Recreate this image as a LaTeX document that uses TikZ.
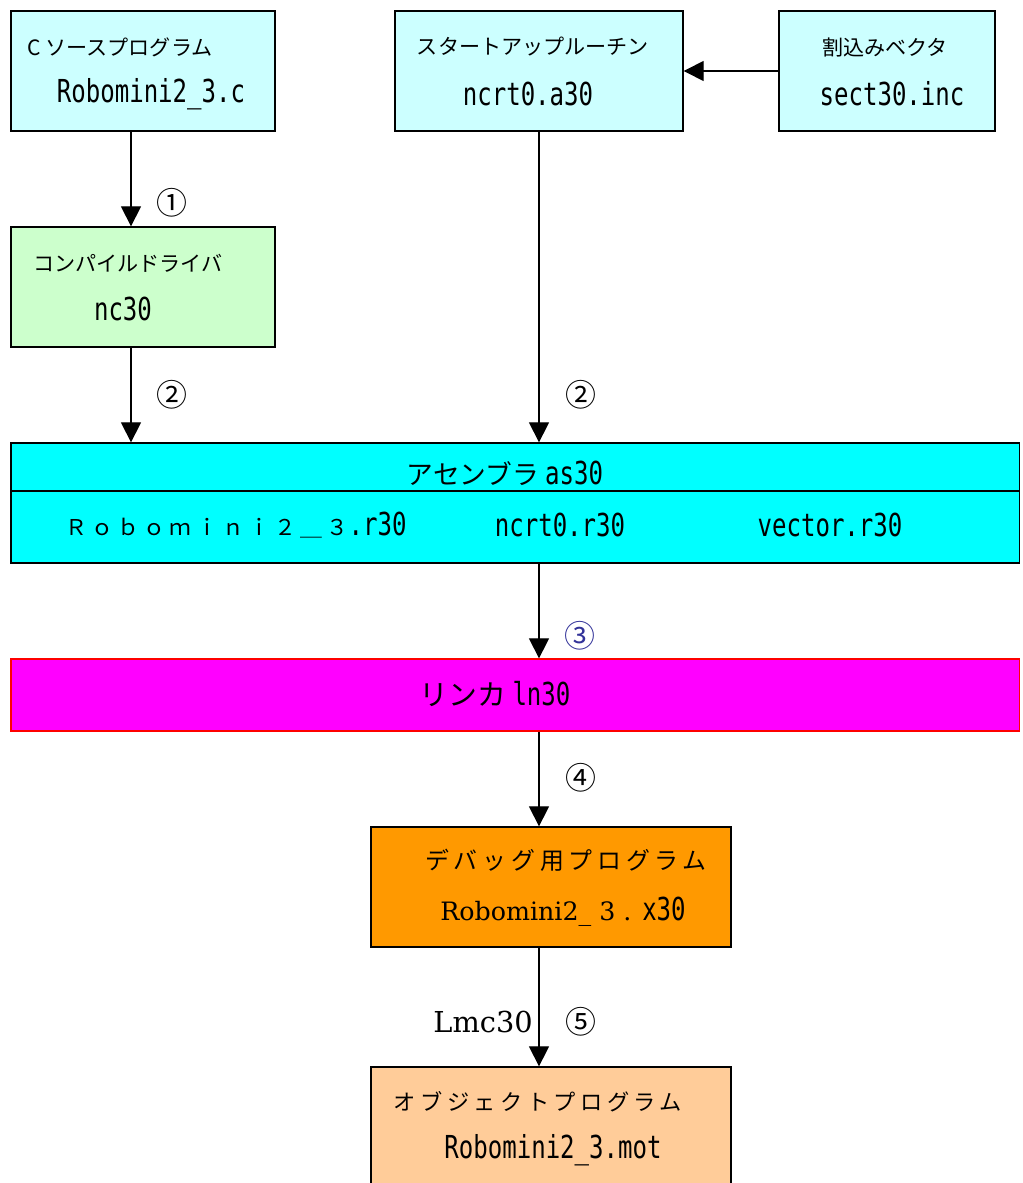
\documentclass[tikz,border=0pt]{standalone}
\usepackage{fontspec}
\usepackage{xcolor}
\usetikzlibrary{arrows.meta,calc,positioning}
\newfontfamily\jp{Noto Sans CJK JP}
\newfontfamily\jpmid[LetterSpace=20]{Noto Sans CJK JP}
\newfontfamily\fn[FakeStretch=0.76]{DejaVu Sans Mono}
\newfontfamily\ser{DejaVu Serif}
\newcommand\jpS{\jp\fontsize{15}{18}\selectfont}
\newcommand\jpL{\jp\fontsize{19}{22}\selectfont}
\newcommand\jpC{\jp\fontsize{22}{26}\selectfont}
\newcommand\fnS{\fn\fontsize{22.5}{26}\selectfont}
\definecolor{paleCyan}{HTML}{CCFFFF}
\definecolor{paleGreen}{HTML}{CCFFCC}
\definecolor{asmCyan}{HTML}{00FFFF}
\definecolor{lnkMagenta}{HTML}{FF00FF}
\definecolor{dbgOrange}{HTML}{FF9900}
\definecolor{objPeach}{HTML}{FFCC99}
\definecolor{stepBlue}{HTML}{333399}

\begin{document}
\begin{tikzpicture}[x=0.025cm,y=-0.025cm,
  box/.style={draw,line width=0.9pt,inner sep=0pt},
  lbl/.style={inner sep=0pt},
  flow/.style={line width=0.9pt,-{Triangle[length=0.5cm,width=0.5cm]}}]
 \clip (0,0) rectangle (1023,1183);
 % sources
 \node[box,fill=paleCyan,minimum width=6.6cm,minimum height=3cm] (src) at (143,71) {};
 \node[lbl] (srcT) at (120,47) {\jpS C ソースプログラム};
 \node[lbl] (srcF) at (151,94) {\fnS Robomini2\_3.c};
 \node[box,fill=paleCyan,minimum width=7.2cm,minimum height=3cm] (start) at (539,71) {};
 \node[lbl] (startT) at (533,47) {\jpS スタートアップルーチン};
 \node[lbl] (startF) at (528,94) {\fnS ncrt0.a30};
 \node[box,fill=paleCyan,minimum width=5.4cm,minimum height=3cm] (vec) at (887,71) {};
 \node[lbl] (vecT) at (885,47) {\jpS 割込みベクタ};
 \node[lbl] (vecF) at (892,94) {\fnS sect30.inc};
 % compiler
 \node[box,fill=paleGreen,minimum width=6.6cm,minimum height=3cm] (cmp) at (143,287) {};
 \node[lbl] (cmpT) at (128,263) {\jpS コンパイルドライバ};
 \node[lbl] (cmpF) at (123,309) {\fnS nc30};
 % assembler
 \node[box,fill=asmCyan,minimum width=25.2cm,minimum height=3cm] (asm) at (515,503) {};
 \draw[line width=0.9pt] (asm.west |- 0,491) -- (asm.east |- 0,491);
 \node[lbl] (asmT) at (505,473) {\jpL アセンブラ {\fnS as30}};
 \node[lbl] (asmA) at (236,525) {{\jpmid\fontsize{15.5}{18}\selectfont Ｒｏｂｏｍｉｎｉ２＿３}{\fnS .r30}};
 \node[lbl] (asmB) at (560,525) {\fnS ncrt0.r30};
 \node[lbl] (asmC) at (830,525) {\fnS vector.r30};
 % linker
 \node[box,draw=red,fill=lnkMagenta,minimum width=25.2cm,minimum height=1.8cm] (lnk) at (515,695) {};
 \node[lbl] (lnkT) at (495,694) {\jp\fontsize{20.5}{24}\selectfont リンカ {\fnS ln30}};
 % outputs
 \node[box,fill=dbgOrange,minimum width=9cm,minimum height=3cm] (dbg) at (551,887) {};
 \node[lbl] (dbgT) at (566,860) {\jpmid\fontsize{17}{20}\selectfont デバッグ用プログラム};
 \node[lbl] (dbgF) at (563,912) {\ser\fontsize{18}{22}\selectfont Robomini2\_ 3 . {\fnS x30}};
 \node[box,fill=objPeach,minimum width=9cm,minimum height=3.5cm] (obj) at (551,1137) {};
 \node[lbl] (objT) at (538,1102) {\jpmid\fontsize{15.8}{19}\selectfont オブジェクトプログラム};
 \node[lbl] (objF) at (553,1150) {\fnS Robomini2\_3.mot};
 % connectors
 \coordinate (spine) at (539,0);
 \coordinate (feed) at (131,0);
 \draw[flow] (vec.west) -- (start.east);
 \draw[flow] (src.south -| feed) -- (cmp.north -| feed);
 \draw[flow] (cmp.south -| feed) -- (asm.north -| feed);
 \draw[flow] (start.south) -- (start.south |- asm.north);
 \draw[flow] (asm.south -| spine) -- (lnk.north -| spine);
 \draw[flow] (lnk.south -| spine) -- (dbg.north -| spine);
 \draw[flow] (dbg.south -| spine) -- (obj.north -| spine);
 \node[lbl] (n1) at (172,203) {\jpC ①};
 \node[lbl] (n2a) at (172,395) {\jpC ②};
 \node[lbl] (n2b) at (581,395) {\jpC ②};
 \node[lbl,text=stepBlue] (n3) at (580,636) {\jpC ③};
 \node[lbl] (n4) at (581,778) {\jpC ④};
 \node[lbl] (n5) at (581,1022) {\jpC ⑤};
 \node[lbl,anchor=east] (lmc) at (533,1022) {\ser\fontsize{20.5}{24}\selectfont Lmc30};
\end{tikzpicture}
\end{document}
